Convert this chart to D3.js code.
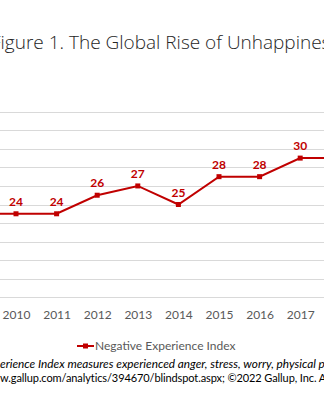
<!DOCTYPE html>
<html>
<head>
<meta charset="utf-8">
<script src="https://cdn.jsdelivr.net/npm/d3@7"></script>
<style>
  html, body { margin: 0; padding: 0; background: #fff; overflow: hidden; }
  svg { display: block; }
</style>
</head>
<body>
<svg id="chart"></svg>
<script>
// values (2009 and 2018 run off the edges)
const years = [2009, 2010, 2011, 2012, 2013, 2014, 2015, 2016, 2017, 2018];
const negExp = [24, 24, 24, 26, 27, 25, 28, 28, 30, 30];
const yTicks = [15, 17, 19, 21, 23, 25, 27, 29, 31, 33, 35];

const titleText = "Figure 1. The Global Rise of Unhappiness";
const legendText = "Negative Experience Index";
const note1 = "erience Index measures experienced anger, stress, worry, physical pain and sadness.";
const note2 = "w.gallup.com/analytics/394670/blindspot.aspx; \u00A92022 Gallup, Inc. All rights reserved.";

var width = 324;
var height = 400;
var red = "#C00000";

var svg = d3.select("#chart")
    .attr("width", width)
    .attr("height", height);

var x = d3.scalePoint()
    .domain(years)
    .range([-24.6, 340.8]);

var y = d3.scaleLinear()
    .domain([15, 35])
    .range([297.3, 111.7]);

// gridlines
svg.append("g")
    .selectAll("line")
    .data(yTicks)
    .join("line")
    .attr("x1", 0)
    .attr("x2", width)
    .attr("y1", d => Math.round(y(d)) + 0.5)
    .attr("y2", d => Math.round(y(d)) + 0.5)
    .attr("stroke", "#d9d9d9")
    .attr("stroke-width", 1);

// x axis labels
var xAxis = d3.axisBottom(x).tickSize(0).tickPadding(0);
svg.append("g")
    .attr("transform", "translate(0,310)")
    .call(xAxis)
    .call(g => g.select(".domain").remove())
    .selectAll("text")
    .attr("font-family", "Lato, 'Open Sans', sans-serif")
    .attr("font-size", 12)
    .attr("fill", "#595959");

// the line
var line = d3.line()
    .x((d, i) => x(years[i]))
    .y(d => y(d));

svg.append("path")
    .datum(negExp)
    .attr("d", line)
    .attr("fill", "none")
    .attr("stroke", red)
    .attr("stroke-width", 2);

svg.append("g")
    .selectAll("rect")
    .data(negExp)
    .join("rect")
    .attr("x", (d, i) => x(years[i]) - 2.5)
    .attr("y", d => y(d) - 2.5)
    .attr("width", 5)
    .attr("height", 5)
    .attr("fill", red);

// data labels
svg.append("g")
    .selectAll("text")
    .data(negExp)
    .join("text")
    .attr("x", (d, i) => x(years[i]))
    .attr("y", d => y(d) - 8)
    .attr("text-anchor", "middle")
    .attr("font-family", "Lato, 'Open Sans', sans-serif")
    .attr("font-weight", "bold")
    .attr("font-size", 12)
    .attr("fill", red)
    .text(d => d);

// title, with the "F" running off the left edge
var title = svg.append("text")
    .attr("y", 49)
    .attr("font-family", "'Open Sans', sans-serif")
    .attr("font-weight", 300)
    .attr("font-size", 19)
    .attr("fill", "#262626")
    .text(titleText);
var fWidth = title.node().getSubStringLength(0, 1);
title.attr("x", -fWidth + 0.5);

// legend
var lg = svg.append("g").attr("transform", "translate(77,346)");
lg.append("line")
    .attr("x1", 0).attr("x2", 17)
    .attr("stroke", red).attr("stroke-width", 2);
lg.append("rect")
    .attr("x", 6).attr("y", -2.5).attr("width", 5).attr("height", 5)
    .attr("fill", red);
lg.append("text")
    .attr("x", 18)
    .attr("y", 4)
    .attr("font-family", "Lato, 'Open Sans', sans-serif")
    .attr("font-size", 12)
    .attr("fill", "#595959")
    .text(legendText);

// notes
svg.append("text")
    .attr("x", 0)
    .attr("y", 368)
    .attr("font-family", "Lato, 'Open Sans', sans-serif")
    .attr("font-style", "italic")
    .attr("font-size", 11.8)
    .attr("fill", "#000")
    .text(note1);

svg.append("text")
    .attr("x", 0)
    .attr("y", 382)
    .attr("font-family", "Lato, 'Open Sans', sans-serif")
    .attr("font-size", 11)
    .attr("letter-spacing", -0.1)
    .attr("fill", "#000")
    .text(note2);
</script>
</body>
</html>
